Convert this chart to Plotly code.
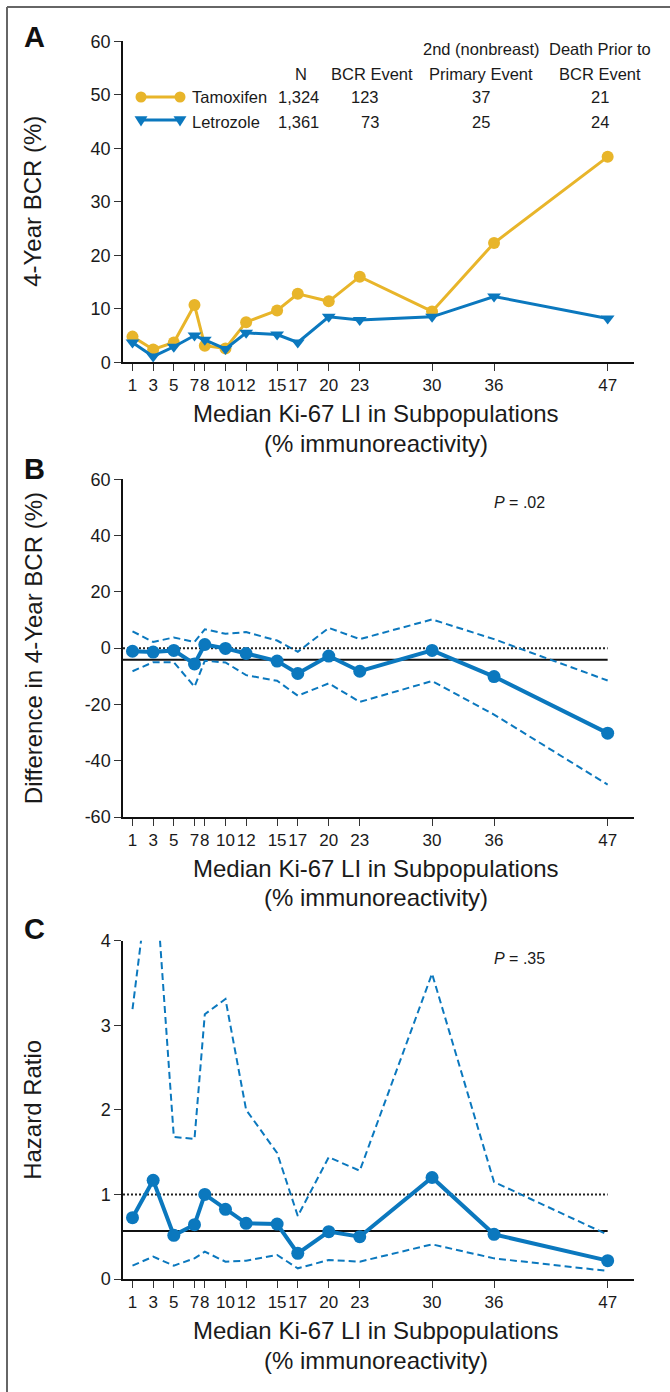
import plotly.graph_objects as go

# ---------------- data ----------------
ki67 = [1, 3, 5, 7, 8, 10, 12, 15, 17, 20, 23, 30, 36, 47]
tick_labels = ["1", "3", "5", "7", "8", "10", "12", "15", "17", "20", "23", "30", "36", "47"]

bcr_tamoxifen = [4.8, 2.4, 3.7, 10.7, 3.1, 2.6, 7.5, 9.7, 12.8, 11.4, 16.0, 9.5, 22.3, 38.4]
bcr_letrozole = [3.7, 1.1, 2.9, 5.0, 4.2, 2.5, 5.5, 5.2, 3.7, 8.5, 7.9, 8.5, 12.3, 8.2]

diff_est = [-1.1, -1.4, -0.8, -5.6, 1.3, -0.1, -1.9, -4.6, -9.0, -2.8, -8.2, -0.8, -10.1, -30.2]
diff_upper = [6.0, 2.2, 3.8, 2.2, 6.7, 5.1, 5.7, 2.7, -1.3, 7.2, 3.2, 10.2, 3.2, -11.5]
diff_lower = [-8.2, -5.0, -5.0, -13.7, -4.5, -5.1, -9.6, -11.6, -16.9, -12.5, -19.1, -11.7, -23.6, -48.5]
diff_overall = -4.1

hr_est = [0.725, 1.167, 0.516, 0.642, 1.0, 0.824, 0.658, 0.650, 0.303, 0.56, 0.50, 1.20, 0.528, 0.217]
hr_upper = [3.19, 5.15, 1.68, 1.655, 3.13, 3.31, 2.0, 1.49, 0.745, 1.44, 1.28, 3.61, 1.147, 0.524]
hr_lower = [0.158, 0.264, 0.158, 0.244, 0.323, 0.205, 0.217, 0.284, 0.126, 0.225, 0.205, 0.41, 0.244, 0.095]
hr_overall = 0.567

arms = ["Tamoxifen", "Letrozole"]
table_n = ["1,324", "1,361"]
table_bcr = ["123", "73"]
table_second = ["37", "25"]
table_death = ["21", "24"]

p_diff = ".02"
p_hr = ".35"

# ---------------- style ----------------
W, H = 670, 1392
YEL = "#E8B52A"
BLU = "#0B78BE"
FONT = "Liberation Sans, Arial, Helvetica, sans-serif"
TXT = "#1a1a1a"

def px(x):
    return x / W

def py(y):
    return 1 - y / H

XL, XR = 123, 634
panels = {  # top pixel, bottom pixel
    "A": (41.3, 362.3),
    "B": (479.3, 817.0),
    "C": (940.7, 1279.0),
}
XRANGE = [0.08, 49.55]

fig = go.Figure()

# Panel A
fig.add_trace(go.Scatter(x=ki67, y=bcr_tamoxifen, mode="lines+markers", name=arms[0],
                         line=dict(color=YEL, width=3), marker=dict(symbol="circle", size=12, color=YEL),
                         xaxis="x", yaxis="y"))
fig.add_trace(go.Scatter(x=ki67, y=bcr_letrozole, mode="lines+markers", name=arms[1],
                         line=dict(color=BLU, width=3), marker=dict(symbol="triangle-down", size=12, color=BLU),
                         xaxis="x", yaxis="y"))

# Panel B
fig.add_trace(go.Scatter(x=ki67, y=diff_upper, mode="lines", line=dict(color=BLU, width=2, dash="7px,4px"),
                         xaxis="x2", yaxis="y2"))
fig.add_trace(go.Scatter(x=ki67, y=diff_lower, mode="lines", line=dict(color=BLU, width=2, dash="7px,4px"),
                         xaxis="x2", yaxis="y2"))
fig.add_trace(go.Scatter(x=ki67, y=diff_est, mode="lines+markers", line=dict(color=BLU, width=4),
                         marker=dict(size=13, color=BLU), xaxis="x2", yaxis="y2"))

# Panel C
fig.add_trace(go.Scatter(x=ki67, y=hr_upper, mode="lines", line=dict(color=BLU, width=2, dash="7px,4px"),
                         xaxis="x3", yaxis="y3"))
fig.add_trace(go.Scatter(x=ki67, y=hr_lower, mode="lines", line=dict(color=BLU, width=2, dash="7px,4px"),
                         xaxis="x3", yaxis="y3"))
fig.add_trace(go.Scatter(x=ki67, y=hr_est, mode="lines+markers", line=dict(color=BLU, width=4),
                         marker=dict(size=13, color=BLU), xaxis="x3", yaxis="y3"))

# reference lines
shapes = []
shapes.append(dict(type="line", xref="x2", yref="y2", x0=XRANGE[0], x1=max(ki67), y0=0, y1=0,
                   line=dict(color="#222", width=2, dash="2px,2px"), layer="below"))
shapes.append(dict(type="line", xref="x2", yref="y2", x0=XRANGE[0], x1=max(ki67), y0=diff_overall, y1=diff_overall,
                   line=dict(color="#111", width=2), layer="below"))
shapes.append(dict(type="line", xref="x3", yref="y3", x0=XRANGE[0], x1=max(ki67), y0=1, y1=1,
                   line=dict(color="#222", width=2, dash="2px,2px"), layer="below"))
shapes.append(dict(type="line", xref="x3", yref="y3", x0=XRANGE[0], x1=max(ki67), y0=hr_overall, y1=hr_overall,
                   line=dict(color="#111", width=2), layer="below"))

# frame (left + top border)
shapes.append(dict(type="line", xref="paper", yref="paper", x0=px(7), x1=px(7), y0=py(7), y1=py(H + 5),
                   line=dict(color="#666", width=2)))
shapes.append(dict(type="line", xref="paper", yref="paper", x0=px(7), x1=px(W + 5), y0=py(7), y1=py(7),
                   line=dict(color="#666", width=2)))

# legend swatches (drawn)
def circle(cx, cy, r, color):
    return dict(type="circle", xref="paper", yref="paper", x0=px(cx - r), x1=px(cx + r),
                y0=py(cy + r), y1=py(cy - r), fillcolor=color, line=dict(color=color, width=0))

def tri_down(cx, cy, s, color):
    x0p, x1p, xm = px(cx - s), px(cx + s), px(cx)
    yt, yb = py(cy - s * 0.75), py(cy + s * 0.85)
    return dict(type="path", xref="paper", yref="paper",
                path=f"M {x0p} {yt} L {x1p} {yt} L {xm} {yb} Z", fillcolor=color, line=dict(color=color, width=0))

LEG_Y = [97, 122]
shapes.append(dict(type="line", xref="paper", yref="paper", x0=px(141), x1=px(180), y0=py(LEG_Y[0]), y1=py(LEG_Y[0]),
                   line=dict(color=YEL, width=3)))
shapes.append(circle(141, LEG_Y[0], 5.5, YEL))
shapes.append(circle(180, LEG_Y[0], 5.5, YEL))
shapes.append(dict(type="line", xref="paper", yref="paper", x0=px(141), x1=px(180), y0=py(LEG_Y[1] - 2), y1=py(LEG_Y[1] - 2),
                   line=dict(color=BLU, width=3)))
shapes.append(tri_down(141, LEG_Y[1] - 1, 6.5, BLU))
shapes.append(tri_down(180, LEG_Y[1] - 1, 6.5, BLU))

annotations = []

def ann(text, x, y, size, xanchor="center", yanchor="middle", angle=0, color=TXT):
    annotations.append(dict(text=text, x=px(x), y=py(y), xref="paper", yref="paper", showarrow=False,
                            xanchor=xanchor, yanchor=yanchor, textangle=angle,
                            font=dict(family=FONT, size=size, color=color)))

# panel letters
for letter, yy in zip(["A", "B", "C"], [37, 469, 929]):
    ann(f"<b>{letter}</b>", 34, yy, 29, color="#111")

# table
TS = 16.5
ann("2nd (nonbreast)", 481, 49, TS)
ann("Death Prior to", 600, 49, TS)
ann("N", 301, 73.5, TS)
ann("BCR Event", 372, 73.5, TS)
ann("Primary Event", 481, 73.5, TS)
ann("BCR Event", 600, 73.5, TS)
for i in range(2):
    yy = LEG_Y[i]
    ann(arms[i], 190, yy, TS, xanchor="left")
    ann(table_n[i], 321, yy, TS, xanchor="right")
    ann(table_bcr[i], 381, yy, TS, xanchor="right")
    ann(table_second[i], 481, yy, TS)
    ann(table_death[i], 600, yy, TS)

# axis titles
y_titles = ["4-Year BCR (%)", "Difference in 4-Year BCR (%)", "Hazard Ratio"]
for (k, (top, bot)), t in zip(panels.items(), y_titles):
    ann(t, 33, (top + bot) / 2, 24, angle=-90)
    ann("Median Ki-67 LI in Subpopulations", (XL + XR) / 2 - 3, bot + 51, 24)
    ann("(% immunoreactivity)", (XL + XR) / 2 - 3, bot + 81, 24)

# p values
ann(f"<i>P</i> = {p_diff}", 519, 502, 16)
ann(f"<i>P</i> = {p_hr}", 519, 958, 16)

xaxis_common = dict(range=XRANGE, tickmode="array", tickvals=ki67, ticktext=tick_labels, tickangle=0,
                    showline=True, linecolor="#111", linewidth=1.5, ticks="outside", ticklen=7,
                    tickwidth=1.3, tickcolor="#333", showgrid=False, zeroline=False, automargin=False,
                    tickfont=dict(family=FONT, size=17, color=TXT),
                    domain=[px(XL), px(XR)], fixedrange=True)

def yaxis(rng, vals, texts, top, bot, anchor):
    return dict(range=rng, tickmode="array", tickvals=vals, ticktext=texts,
                showline=True, linecolor="#111", linewidth=1.5, ticks="outside", ticklen=7,
                tickwidth=1.3, tickcolor="#333", showgrid=False, zeroline=False, automargin=False,
                tickfont=dict(family=FONT, size=18, color=TXT),
                domain=[py(bot), py(top)], anchor=anchor, fixedrange=True)

fig.update_layout(
    width=W, height=H, autosize=False,
    margin=dict(l=0, r=0, t=0, b=0, pad=0),
    paper_bgcolor="white", plot_bgcolor="white",
    showlegend=False,
    xaxis=dict(xaxis_common, anchor="y"),
    xaxis2=dict(xaxis_common, anchor="y2"),
    xaxis3=dict(xaxis_common, anchor="y3"),
    yaxis=yaxis([0, 60], [0, 10, 20, 30, 40, 50, 60], ["0", "10", "20", "30", "40", "50", "60"], *panels["A"], "x"),
    yaxis2=yaxis([-60, 60], [-60, -40, -20, 0, 20, 40, 60], ["-60", "-40", "-20", "0", "20", "40", "60"], *panels["B"], "x2"),
    yaxis3=yaxis([0, 4], [0, 1, 2, 3, 4], ["0", "1", "2", "3", "4"], *panels["C"], "x3"),
    shapes=shapes,
    annotations=annotations,
)

POST = "document.body.style.margin='0';document.body.style.overflow='hidden';"
fig.write_html("out.html", config={"displayModeBar": False}, post_script=POST)
